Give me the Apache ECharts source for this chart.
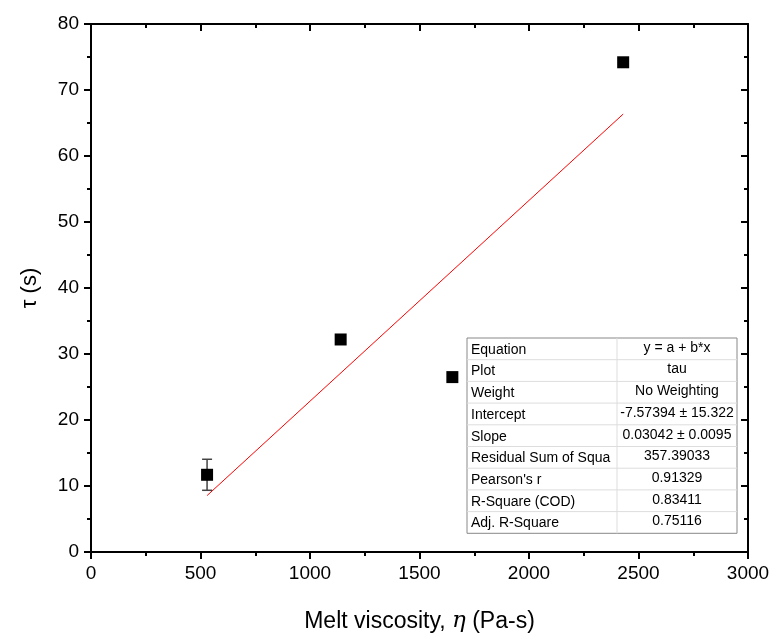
<!DOCTYPE html>
<html>
<head>
<meta charset="utf-8">
<script src="https://cdn.jsdelivr.net/npm/echarts@6/dist/echarts.min.js"></script>
<style>
  html, body { margin: 0; padding: 0; background: #fff; }
  #main { width: 775px; height: 640px; }
</style>
</head>
<body>
<div id="main"></div>
<script>
// melt viscosity (Pa-s) vs relaxation time tau (s)
const viscosity = [530, 1140, 1650, 2430];
const tau = [11.7, 32.2, 26.5, 74.2];
const tauErr = [2.35, 0, 0, 0];

// linear fit endpoints, y = a + b*x
const fitX = [530, 2430];
const fitY = [8.55, 66.35];

const xTicks = [0, 3000, 500];
const yTicks = [0, 80, 10];

const tableRows = [
    ['Equation', 'y = a + b*x'],
    ['Plot', 'tau'],
    ['Weight', 'No Weighting'],
    ['Intercept', '-7.57394 ± 15.322'],
    ['Slope', '0.03042 ± 0.0095'],
    ['Residual Sum of Squa', '357.39033'],
    ["Pearson's r", '0.91329'],
    ['R-Square (COD)', '0.83411'],
    ['Adj. R-Square', '0.75116']
];

const FONT = 'Liberation Sans, Arial, sans-serif';

function makeTable() {
    var x0 = 467, y0 = 338, w = 270, rh = 21.7, splitX = 617;
    var els = [];
    els.push({
        type: 'rect', shape: { x: x0, y: y0, width: w, height: rh * tableRows.length },
        style: { fill: '#fff', stroke: '#888', lineWidth: 1 }, z: 100
    });
    for (var i = 1; i < tableRows.length; i++) {
        els.push({
            type: 'line', shape: { x1: x0, y1: y0 + rh * i, x2: x0 + w, y2: y0 + rh * i },
            style: { stroke: '#ddd', lineWidth: 1 }, z: 101
        });
    }
    els.push({
        type: 'line', shape: { x1: splitX, y1: y0, x2: splitX, y2: y0 + rh * tableRows.length },
        style: { stroke: '#ddd', lineWidth: 1 }, z: 101
    });
    for (var i = 0; i < tableRows.length; i++) {
        var cy = y0 + rh * i + rh / 2 + 1;
        els.push({
            type: 'text', x: x0 + 4, y: cy, z: 102,
            style: { text: tableRows[i][0], font: '14px ' + FONT, fill: '#000', verticalAlign: 'middle' }
        });
        els.push({
            type: 'text', x: (splitX + x0 + w) / 2, y: cy - 2, z: 102,
            style: { text: tableRows[i][1], font: '14px ' + FONT, fill: '#000', align: 'center', verticalAlign: 'middle' }
        });
    }
    return els;
}

var dom = document.getElementById('main');
var myChart = echarts.init(dom, null, { renderer: 'canvas' });

var scatterData = [];
for (var i = 0; i < viscosity.length; i++) {
    scatterData.push([viscosity[i], tau[i]]);
}
var errData = [];
for (var i = 0; i < viscosity.length; i++) {
    if (tauErr[i] > 0) errData.push([viscosity[i], tau[i] - tauErr[i], tau[i] + tauErr[i]]);
}
var fitData = [];
for (var i = 0; i < fitX.length; i++) {
    fitData.push([fitX[i], fitY[i]]);
}

var axisLine = { show: true, onZero: false, lineStyle: { color: '#000', width: 2 } };

var option = {
    animation: false,
    grid: { left: 91, right: 27, top: 24, bottom: 88 },
    xAxis: [
        {
            type: 'value', min: xTicks[0], max: xTicks[1], interval: xTicks[2],
            position: 'bottom',
            axisLine: axisLine,
            axisTick: { show: true, inside: false, length: 7, lineStyle: { color: '#000', width: 2 } },
            minorTick: { show: true, splitNumber: 2, length: 4, lineStyle: { color: '#000', width: 2 } },
            splitLine: { show: false },
            axisLabel: { color: '#000', fontSize: 19, fontFamily: FONT, margin: 12, formatter: function (v) { return String(v); } },
            name: 'Melt viscosity, {i|η} (Pa-s)',
            nameLocation: 'middle', nameGap: 58,
            nameTextStyle: {
                color: '#000', fontSize: 23, fontFamily: FONT,
                rich: { i: { fontStyle: 'italic', fontSize: 23, fontFamily: 'DejaVu Serif, serif', color: '#000' } }
            }
        },
        {
            type: 'value', min: xTicks[0], max: xTicks[1], interval: xTicks[2],
            position: 'top',
            axisLine: axisLine,
            axisTick: { show: true, inside: true, length: 7, lineStyle: { color: '#000', width: 2 } },
            minorTick: { show: true, splitNumber: 2, length: 4, lineStyle: { color: '#000', width: 2 } },
            splitLine: { show: false },
            axisLabel: { show: false }
        }
    ],
    yAxis: [
        {
            type: 'value', min: yTicks[0], max: yTicks[1], interval: yTicks[2],
            position: 'left',
            axisLine: axisLine,
            axisTick: { show: true, inside: false, length: 7, lineStyle: { color: '#000', width: 2 } },
            minorTick: { show: true, splitNumber: 2, length: 4, lineStyle: { color: '#000', width: 2 } },
            splitLine: { show: false },
            axisLabel: { color: '#000', fontSize: 19, fontFamily: FONT, margin: 12 },
            name: 'τ (s)',
            nameLocation: 'middle', nameGap: 50, nameRotate: 90,
            nameTextStyle: { color: '#000', fontSize: 22, fontFamily: FONT }
        },
        {
            type: 'value', min: yTicks[0], max: yTicks[1], interval: yTicks[2],
            position: 'right',
            axisLine: axisLine,
            axisTick: { show: true, inside: true, length: 7, lineStyle: { color: '#000', width: 2 } },
            minorTick: { show: true, splitNumber: 2, length: 4, lineStyle: { color: '#000', width: 2 } },
            splitLine: { show: false },
            axisLabel: { show: false }
        }
    ],
    series: [
        {
            type: 'line',
            data: fitData,
            showSymbol: false,
            lineStyle: { color: '#ff0000', width: 1 },
            z: 2
        },
        {
            type: 'custom',
            data: errData,
            renderItem: function (params, api) {
                var x = api.value(0);
                var lo = api.coord([x, api.value(1)]);
                var hi = api.coord([x, api.value(2)]);
                var hw = 5;
                var st = { stroke: '#444', lineWidth: 1.5 };
                return {
                    type: 'group',
                    children: [
                        { type: 'line', shape: { x1: lo[0], y1: lo[1], x2: hi[0], y2: hi[1] }, style: st },
                        { type: 'line', shape: { x1: lo[0] - hw, y1: lo[1], x2: lo[0] + hw, y2: lo[1] }, style: st },
                        { type: 'line', shape: { x1: hi[0] - hw, y1: hi[1], x2: hi[0] + hw, y2: hi[1] }, style: st }
                    ]
                };
            },
            z: 3
        },
        {
            type: 'scatter',
            data: scatterData,
            symbol: 'rect',
            symbolSize: 12,
            itemStyle: { color: '#000', opacity: 1 },
            z: 4
        }
    ],
    graphic: makeTable()
};

myChart.setOption(option);
</script>
</body>
</html>
